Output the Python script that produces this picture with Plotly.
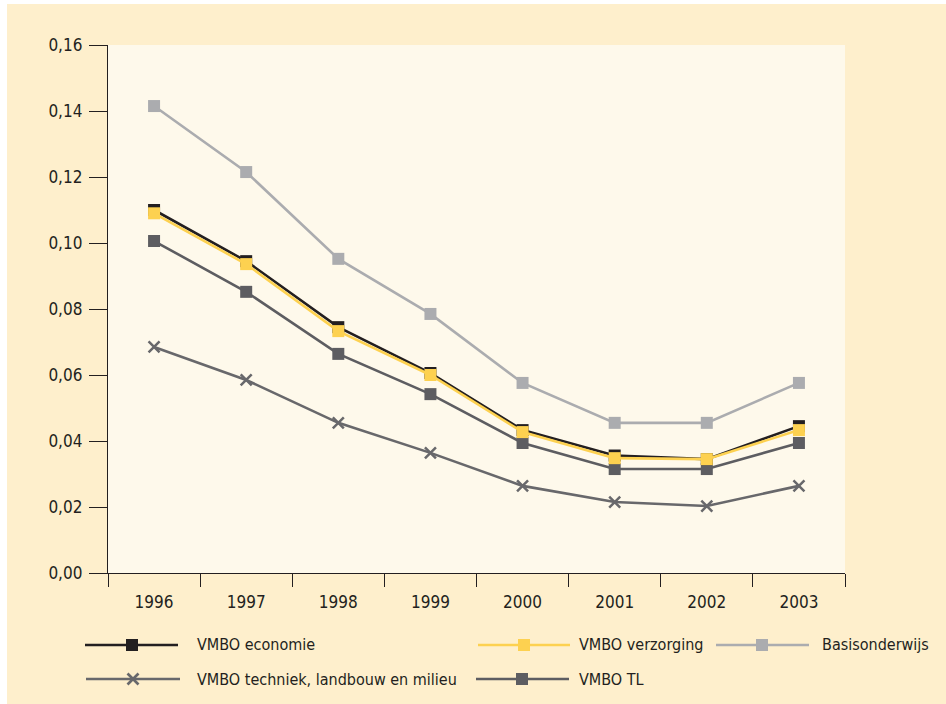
import plotly.graph_objects as go

years = ["1996", "1997", "1998", "1999", "2000", "2001", "2002", "2003"]
economie = [0.110, 0.0945, 0.0745, 0.0606, 0.0433, 0.0356, 0.0345, 0.0445]
verzorging = [0.109, 0.0936, 0.0733, 0.0600, 0.0427, 0.0348, 0.0345, 0.0433]
basis = [0.1415, 0.1215, 0.0952, 0.0785, 0.0576, 0.0455, 0.0455, 0.0576]
techniek = [0.0685, 0.0585, 0.0455, 0.0364, 0.0264, 0.0215, 0.0203, 0.0264]
vmbo_tl = [0.1006, 0.0852, 0.0664, 0.0542, 0.0394, 0.0315, 0.0315, 0.0394]
y_ticks = [0.00, 0.02, 0.04, 0.06, 0.08, 0.10, 0.12, 0.14, 0.16]

names = ["VMBO economie", "VMBO verzorging", "Basisonderwijs",
         "VMBO techniek, landbouw en milieu", "VMBO TL"]
C_ECO = "#231f20"
C_VER = "#fdd150"
C_BAS = "#abacaf"
C_TEC = "#68686b"
C_TL = "#5d5d61"
TEXT = "#231f20"
FONT = "Liberation Sans Narrow, DejaVu Sans Condensed, Arial Narrow, sans-serif"

fig = go.Figure()

def add(y, name, color, symbol):
    fig.add_trace(go.Scatter(
        x=years, y=y, name=name, mode="lines+markers",
        line=dict(color=color, width=2.6),
        marker=dict(symbol=symbol, size=12 if symbol == "square" else 11, color=color,
                    line=dict(width=2.5 if symbol != "square" else 0, color=color)),
        showlegend=False))

add(basis, names[2], C_BAS, "square")
add(techniek, names[3], C_TEC, "x-thin")
add(vmbo_tl, names[4], C_TL, "square")
add(economie, names[0], C_ECO, "square")
add(verzorging, names[1], C_VER, "square")

W, H = 946, 704
L, R, T, B = 108, 845, 45, 573
pw, ph = R - L, B - T

def px(x):
    return (x - L) / pw

def py(y):
    return (B - y) / ph

shapes = []
annotations = []
# white strips at top and left edge
shapes.append(dict(type="rect", xref="paper", yref="paper", x0=px(0), x1=px(W + 5),
                   y0=py(4), y1=py(-5), fillcolor="white", line=dict(width=0), layer="below"))
shapes.append(dict(type="rect", xref="paper", yref="paper", x0=px(-5), x1=px(7),
                   y0=py(H + 5), y1=py(-5), fillcolor="white", line=dict(width=0), layer="below"))

legend_items = [
    (names[0], C_ECO, "square", 85, 178, 132, 645, 195),
    (names[1], C_VER, "square", 478, 570, 524, 645, 577),
    (names[2], C_BAS, "square", 716, 809, 762, 645, 820),
    (names[3], C_TEC, "x", 86, 180, 133, 679, 195),
    (names[4], C_TL, "square", 476, 569, 522, 679, 577),
]
for name, color, sym, x0, x1, xm, yy, xt in legend_items:
    shapes.append(dict(type="line", xref="paper", yref="paper", x0=px(x0), x1=px(x1),
                       y0=py(yy), y1=py(yy), line=dict(color=color, width=2.6)))
    if sym == "square":
        s = 6
        shapes.append(dict(type="rect", xref="paper", yref="paper", x0=px(xm - s), x1=px(xm + s),
                           y0=py(yy + s), y1=py(yy - s), fillcolor=color, line=dict(width=0)))
    else:
        s = 5.5
        for d in (1, -1):
            shapes.append(dict(type="line", xref="paper", yref="paper", x0=px(xm - s), x1=px(xm + s),
                               y0=py(yy + s * d), y1=py(yy - s * d), line=dict(color=color, width=2.6)))
    annotations.append(dict(xref="paper", yref="paper", x=px(xt), y=py(yy), text=name,
                            showarrow=False, xanchor="left", yanchor="middle",
                            font=dict(family=FONT, size=16, color=TEXT)))

fig.update_layout(
    width=W, height=H,
    margin=dict(l=L, r=W - R, t=T, b=H - B),
    paper_bgcolor="#feefcc",
    plot_bgcolor="#fef9eb",
    separators=",.",
    showlegend=False,
    hovermode=False,
    shapes=shapes,
    annotations=annotations,
    font=dict(family=FONT, size=17, color=TEXT),
    xaxis=dict(type="category", tickson="boundaries", ticks="outside", ticklen=13,
               tickwidth=1.3, tickcolor=TEXT, showline=True, linecolor=TEXT, linewidth=1.3,
               showgrid=False, zeroline=False, tickfont=dict(size=17, color=TEXT),
               range=[-0.5, 7.5], ticklabelstandoff=13),
    yaxis=dict(range=[0, 0.16], tickvals=y_ticks, tickformat=".2f", ticks="outside",
               ticklen=18, tickwidth=1.3, tickcolor=TEXT, showline=True, linecolor=TEXT,
               linewidth=1.3, showgrid=False, zeroline=False, tickfont=dict(size=17, color=TEXT),
               ticklabelstandoff=3),
)

fig.write_html("out.html", config={"displayModeBar": False},
               post_script="document.body.style.margin='0';document.body.style.padding='0';")
